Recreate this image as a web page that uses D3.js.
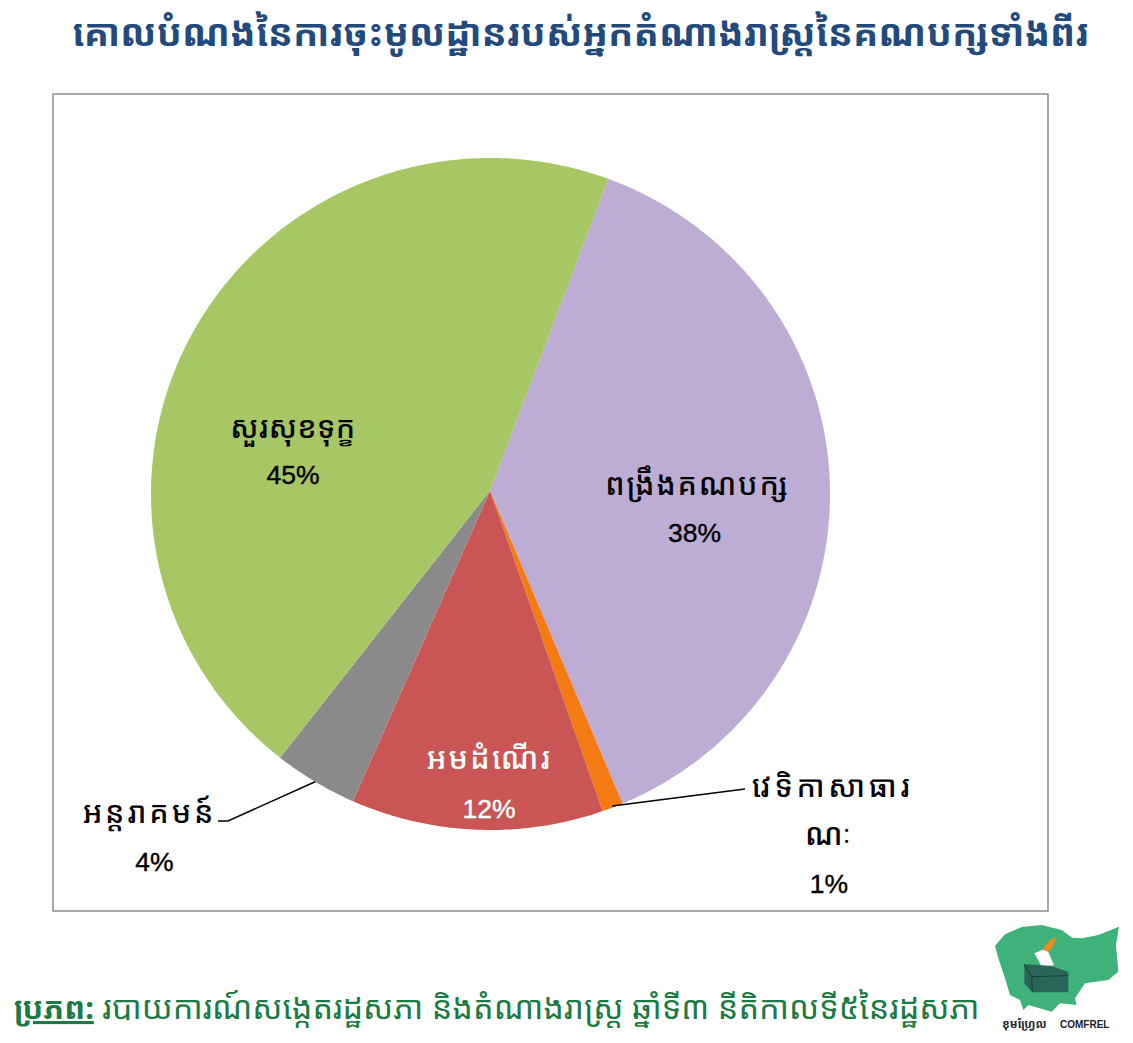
<!DOCTYPE html>
<html><head><meta charset="utf-8">
<style>html,body{margin:0;background:#fff}svg{display:block}</style>
<script src="https://cdn.jsdelivr.net/npm/d3@7"></script></head>
<body><svg id="c" width="1133" height="1043"></svg>
<script>
const categories=["ពង្រឹងគណបក្ស","វេទិកាសាធារណៈ","អមដំណើរ","អន្តរាគមន៍","សួរសុខទុក្ខ"];
const values=[38,1,12,4,45];
const colors=["#bdacd3","#f47a14","#c95654","#8a8a8a","#a6c763"];
const titleText="គោលបំណងនៃការចុះមូលដ្ឋានរបស់អ្នកតំណាងរាស្ត្រនៃគណបក្សទាំងពីរ";
const sourceLabel="ប្រភព:";
const sourceText=" របាយការណ៍សង្កេតរដ្ឋសភា និងតំណាងរាស្ត្រ ឆ្នាំទី៣ នីតិកាលទី៥នៃរដ្ឋសភា";
const logoKhmer="ខុមហ្វ្រែល";
const logoLatin="COMFREL";
const svg=d3.select("#c");
const kh="'Noto Sans Khmer','Khmer OS','Noto Sans','DejaVu Sans',sans-serif";
const lat="'Liberation Sans',Arial,sans-serif";
svg.append("text").attr("x",580.5).attr("y",46).attr("text-anchor","middle").attr("font-family",kh).attr("font-size",37.4).attr("font-weight",700).attr("fill","#234a7d").text(titleText);
svg.append("rect").attr("x",53).attr("y",94).attr("width",995).attr("height",817).attr("fill","#fff").attr("stroke","#8c8c8c").attr("stroke-width",1.5);
const cx=490.5,cy=494,rx=339.5,ry=336,apex=[490,490.7];
const start=20.3*Math.PI/180;
const pie=d3.pie().sort(null).startAngle(start).endAngle(start+2*Math.PI)(values);
const pt=(a,k)=>[cx+k*rx*Math.sin(a),cy-k*ry*Math.cos(a)];
const mid=d=>(d.startAngle+d.endAngle)/2;
const wedge=d=>{
  const n=Math.max(2,Math.ceil((d.endAngle-d.startAngle)*90));
  const rim=d3.range(n+1).map(i=>pt(d.startAngle+(d.endAngle-d.startAngle)*i/n,1));
  return d3.line()([apex,...rim])+"Z";
};
svg.append("g").selectAll("path").data(pie).join("path").attr("d",wedge).attr("fill",(d,i)=>colors[i]);
const kLabel=(x,y,t,fill,sp)=>svg.append("text").attr("x",x).attr("y",y).attr("text-anchor","middle").attr("fill",fill)
   .attr("font-family",kh).attr("font-size",30).attr("font-weight",500).attr("letter-spacing",sp).text(t);
const pLabel=(x,y,v,fill)=>svg.append("text").attr("x",x).attr("y",y).attr("text-anchor","middle").attr("fill",fill)
   .attr("stroke",fill).attr("stroke-width",0.4).attr("font-family",lat).attr("font-size",26.5).text(v+"%");
kLabel(293,438,categories[4],"#000",0.4); pLabel(293,484,values[4],"#000");
kLabel(697.5,495,categories[0],"#000",1.8); pLabel(694.5,542,values[0],"#000");
kLabel(489.5,769,categories[2],"#fff",2.3); pLabel(489,818,values[2],"#fff");
kLabel(149.5,823,categories[3],"#000",2.9); pLabel(154.5,871,values[3],"#000");
kLabel(832.5,797,"វេទិកាសាធារ","#000",3.6); kLabel(829.5,845,"ណៈ","#000",3); pLabel(829,893,values[1],"#000");
const line=d3.line();
svg.append("path").attr("d",line([pt(mid(pie[1]),0.995),[745,789]])).attr("fill","none").attr("stroke","#000").attr("stroke-width",1.5);
svg.append("path").attr("d",line([pt(mid(pie[3]),1.0),[228,821],[218,821]])).attr("fill","none").attr("stroke","#000").attr("stroke-width",1.5);
const src=svg.append("text").attr("x",14).attr("y",1019).attr("font-family",kh).attr("font-size",32.5).attr("fill","#1c7a45");
src.append("tspan").attr("font-size",31).attr("font-weight",700).attr("text-decoration","underline").text(sourceLabel);
src.append("tspan").text(sourceText);
// COMFREL logo (decorative)
const logo=svg.append("g").attr("transform","translate(985,915) scale(0.3333)");
logo.append("path").attr("d",d3.line()([[30,92],[60,58],[110,36],[170,30],[230,45],[262,68],[290,70],[340,60],[402,35],[393,90],[400,170],[370,195],[300,205],[270,250],[275,270],[225,265],[200,290],[130,270],[115,285],[105,255],[75,240],[60,190],[40,130]])+"Z").attr("fill","#3fb27a");
logo.append("path").attr("d","M148,115L185,100L207,150L172,158Z").attr("fill","#fff");
logo.append("path").attr("d","M175,105C180,85 195,75 213,65C210,85 200,100 190,110Z").attr("fill","#ee8a20");
logo.append("path").attr("d","M118,148L195,152L250,170L250,232L142,232L118,205Z").attr("fill","#2a6658");
logo.append("path").attr("d","M118,148L140,185L250,182M140,185L142,232").attr("stroke","#123f38").attr("stroke-width",3).attr("fill","none");
svg.append("text").attr("x",1002).attr("y",1028).attr("font-family",kh).attr("font-size",11.5).attr("font-weight",700).attr("fill","#222").text(logoKhmer);
svg.append("text").attr("x",1060).attr("y",1028).attr("font-family",lat).attr("font-size",10).attr("font-weight",700).attr("fill","#222").text(logoLatin);
</script></body></html>
